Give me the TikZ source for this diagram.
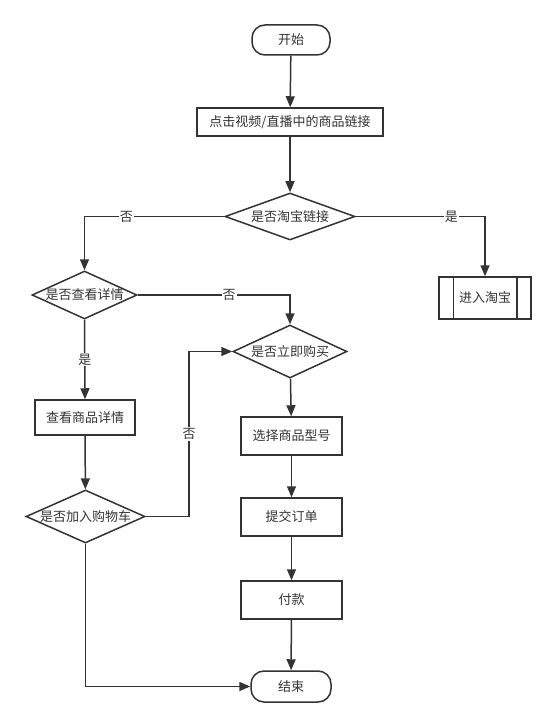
\documentclass[tikz,border=0pt]{standalone}
\usepackage{fontspec}
\setmainfont{Noto Sans CJK SC}
\usetikzlibrary{shapes.geometric,arrows.meta}
\definecolor{ink}{HTML}{333333}
\tikzset{
  base/.style={draw=ink, line width=1.5pt, text=ink, font=\fontsize{13}{15}\selectfont, inner sep=0pt},
  term/.style={base, rectangle, rounded corners=13pt, minimum width=78pt, minimum height=30pt},
  proc/.style={base, rectangle, minimum width=101pt, minimum height=38pt},
  dec/.style={base, diamond},
  arr/.style={draw=ink, line width=1.5pt, -{Triangle[length=11pt,width=9pt]}},
  lbl/.style={fill=white, text=ink, font=\fontsize{13}{15}\selectfont, inner sep=1pt}
}
\begin{document}
\begin{tikzpicture}[x=1pt,y=-1pt]
\useasboundingbox (0,0) rectangle (556,727);
\node[term] (start) at (291,40) {开始};
\node[proc, minimum width=186pt, minimum height=28pt] (click) at (290,122) {点击视频/直播中的商品链接};
\node[dec, minimum width=130pt, minimum height=47pt] (taobao) at (290,216.5) {\makebox[0pt]{是否淘宝链接}};
\node[proc, minimum width=92pt, minimum height=42pt] (enter) at (485,298) {进入淘宝};
\draw[ink, line width=1.5pt] ([xshift=15pt]enter.north west) -- ([xshift=15pt]enter.south west);
\draw[ink, line width=1.5pt] ([xshift=-15pt]enter.north east) -- ([xshift=-15pt]enter.south east);
\node[dec, minimum width=105pt, minimum height=48pt] (detail) at (84.5,295) {\makebox[0pt]{是否查看详情}};
\node[dec, minimum width=114pt, minimum height=53pt] (buy) at (290,351.5) {\makebox[0pt]{是否立即购买}};
\node[proc, minimum width=100pt, minimum height=35pt] (view) at (85,417.5) {查看商品详情};
\node[proc] (model) at (291.5,436) {选择商品型号};
\node[proc] (submit) at (291.5,517) {提交订单};
\node[proc] (pay) at (291.5,600) {付款};
\node[dec, minimum width=119pt, minimum height=53pt] (cart) at (85.5,516.5) {\makebox[0pt]{是否加入购物车}};
\node[term, minimum width=80pt, minimum height=31pt] (end) at (291,686.5) {结束};
\coordinate (cartturn) at (189,351.5);

\draw[arr] (start) -- (click);
\draw[arr] (click) -- (taobao);
\draw[arr] (taobao.west) -| node[lbl, pos=0.35] {否} (detail.north);
\draw[arr] (taobao.east) -| node[lbl, pos=0.37] {是} (enter.north);
\draw[arr] (detail.east) -| node[lbl, pos=0.3] {否} (buy.north);
\draw[arr] (detail.south) -- node[lbl] {是} (view.north);
\draw[arr] (view) -- (cart);
\draw[arr] (cart.east) -| node[lbl, pos=0.75] {否} (cartturn) -- (buy.west);
\draw[arr] (buy) -- (model);
\draw[arr] (model) -- (submit);
\draw[arr] (submit) -- (pay);
\draw[arr] (pay) -- (end);
\draw[arr] (cart.south) |- (end.west);
\end{tikzpicture}
\end{document}
